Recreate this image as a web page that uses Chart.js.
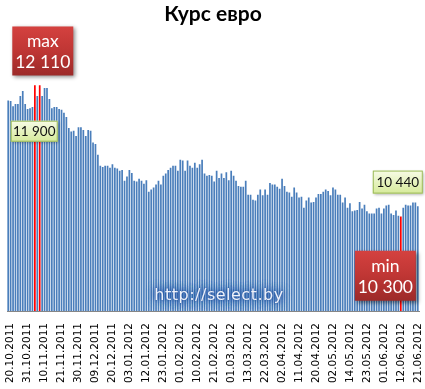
<!DOCTYPE html>
<html><head><meta charset="utf-8">
<script src="https://cdn.jsdelivr.net/npm/chart.js@4/dist/chart.umd.min.js"></script>
<style>html,body{margin:0;padding:0;background:#fff;}#wrap{width:425px;height:389px;}</style>
</head><body><div id="wrap"><canvas id="c" width="425" height="389"></canvas></div>
<script>
const title = 'Курс евро';
const tickLabels = ['20.10.2011','31.10.2011','10.11.2011','21.11.2011','30.11.2011','09.12.2011','20.12.2011',
  '03.01.2012','12.01.2012','23.01.2012','01.02.2012','10.02.2012','21.02.2012','01.03.2012','13.03.2012',
  '22.03.2012','02.04.2012','11.04.2012','20.04.2012','02.05.2012','14.05.2012','23.05.2012','01.06.2012',
  '12.06.2012','21.06.2012'];
const labelStep = 7;
const values = [
  11900,11890,11820,11850,11850,11960,12030,11850,11780,11790,
  11810,12110,11960,12110,11960,12070,12070,11920,11790,11810,
  11810,11780,11770,11730,11670,11520,11470,11480,11410,11530,
  11530,11490,11410,11490,11480,11320,11300,11150,11000,10980,
  11000,11000,10970,11020,10970,10960,10930,10940,10790,10850,
  10940,10900,10790,10780,10820,10790,10750,10800,10640,10670,
  10700,10740,10790,10740,10860,10890,10940,10970,11000,11000,
  10930,11080,11070,10930,11070,11000,10970,11040,10970,11020,
  11080,10890,10860,10870,10860,10780,10930,10830,10890,10830,
  10910,10800,10930,10860,10790,10720,10710,10710,10790,10600,
  10600,10530,10520,10600,10670,10590,10670,10600,10760,10740,
  10740,10710,10680,10820,10720,10640,10630,10570,10700,10630,
  10560,10570,10420,10520,10560,10490,10500,10560,10610,10610,
  10640,10670,10650,10590,10700,10670,10600,10600,10490,10560,
  10420,10480,10370,10380,10390,10500,10410,10460,10370,10340,
  10340,10340,10410,10420,10340,10410,10450,10460,10340,10320,
  10380,10310,10300,10420,10460,10450,10450,10490,10490,10440
];
const yMin = 9000, yMax = 12500;

const categories = values.map((v, i) => (i % labelStep === 0 && tickLabels[i / labelStep]) ? tickLabels[i / labelStep] : '');
const maxV = Math.max(...values), minV = Math.min(...values);
const barColors = values.map(v => (v === maxV || v === minV) ? '#FF0000' : '#4A7EBB');
const fmt = v => String(v).replace(/\B(?=(\d{3})+(?!\d))/g, ' ');

function redBox(ctx, x, y, w, h, l1, l2) {
  ctx.save();
  ctx.shadowColor = 'rgba(0,0,0,0.45)'; ctx.shadowBlur = 4; ctx.shadowOffsetX = 2; ctx.shadowOffsetY = 2;
  const g = ctx.createLinearGradient(0, y, 0, y + h);
  g.addColorStop(0, '#D4413F'); g.addColorStop(0.5, '#BF3634'); g.addColorStop(1, '#9C2A29');
  ctx.fillStyle = g; ctx.fillRect(x, y, w, h);
  ctx.restore();
  ctx.save();
  ctx.fillStyle = '#FFFFFF'; ctx.textAlign = 'center'; ctx.textBaseline = 'middle';
  ctx.font = '17.5px Lato, "Open Sans", sans-serif';
  ctx.fillText(l1, x + w / 2, y + h * 0.31);
  ctx.fillText(l2, x + w / 2, y + h * 0.74);
  ctx.restore();
}
function greenBox(ctx, x, y, w, h, t) {
  ctx.save();
  ctx.shadowColor = 'rgba(0,0,0,0.35)'; ctx.shadowBlur = 3; ctx.shadowOffsetX = 1.5; ctx.shadowOffsetY = 1.5;
  const g = ctx.createLinearGradient(0, y, 0, y + h);
  g.addColorStop(0, '#F7FBE6'); g.addColorStop(1, '#D6EA9A');
  ctx.fillStyle = g; ctx.fillRect(x, y, w, h);
  ctx.restore();
  ctx.save();
  ctx.strokeStyle = '#9BBB59'; ctx.lineWidth = 1;
  ctx.strokeRect(x + 0.5, y + 0.5, w - 1, h - 1);
  ctx.fillStyle = '#111'; ctx.textAlign = 'center'; ctx.textBaseline = 'middle';
  ctx.font = '13.5px Lato, "Open Sans", sans-serif';
  ctx.fillText(t, x + w / 2, y + h / 2 + 0.5);
  ctx.restore();
}

const annot = {
  id: 'annot',
  afterDatasetsDraw(chart) {
    const ctx = chart.ctx, xs = chart.scales.x, ys = chart.scales.y, ca = chart.chartArea;
    const iMax = values.indexOf(maxV), iMaxLast = values.lastIndexOf(maxV);
    const iMin = values.lastIndexOf(minV), iLast = values.length - 1;
    const xm = (xs.getPixelForValue(iMax) + xs.getPixelForValue(iMaxLast)) / 2;
    redBox(ctx, xm - 25, ys.getPixelForValue(maxV) - 59, 61, 49, 'max', fmt(maxV));
    greenBox(ctx, xs.getPixelForValue(0) + 2.5, ys.getPixelForValue(values[0]) + 20, 47, 21, fmt(values[0]));
    greenBox(ctx, xs.getPixelForValue(iLast) - 45, ys.getPixelForValue(values[iLast]) - 36, 50, 23, fmt(values[iLast]));
    redBox(ctx, xs.getPixelForValue(iMin) - 46, ys.getPixelForValue(minV) + 34, 61, 50, 'min', fmt(minV));
    ctx.save();
    const cx = (ca.left + ca.right) / 2 + 6, cy = ca.bottom - 15;
    ctx.font = '16px "DejaVu Sans", Verdana, sans-serif';
    try { ctx.letterSpacing = '0.5px'; } catch (e) {}
    ctx.textAlign = 'center'; ctx.textBaseline = 'middle';
    ctx.shadowColor = 'rgba(45,95,175,1)'; ctx.shadowBlur = 9;
    ctx.fillStyle = 'rgba(80,125,195,0.9)';
    for (let k = 0; k < 4; k++) ctx.fillText('http://select.by', cx, cy);
    ctx.shadowBlur = 2; ctx.shadowColor = 'rgba(40,80,150,0.9)';
    ctx.fillStyle = '#EEF2FA';
    ctx.fillText('http://select.by', cx, cy);
    ctx.restore();
  }
};

new Chart(document.getElementById('c').getContext('2d'), {
  type: 'bar',
  data: { labels: categories, datasets: [{ data: values, backgroundColor: barColors, borderWidth: 0, barThickness: 1.05, categoryPercentage: 1 }] },
  options: {
    responsive: false, animation: false, devicePixelRatio: 1,
    layout: { padding: { left: 7, right: 6, top: 0, bottom: 6 } },
    plugins: {
      legend: { display: false }, tooltip: { enabled: false },
      title: { display: true, text: title, color: '#000', font: { family: 'Lato, "Open Sans", sans-serif', size: 21, weight: 'bold', lineHeight: 1.2 }, padding: { top: 2, bottom: 30 } }
    },
    scales: {
      x: {
        grid: { display: false, drawTicks: false },
        border: { display: true, color: '#868686', width: 1 },
        ticks: { autoSkip: false, minRotation: 90, maxRotation: 90, padding: 12, labelOffset: 2.5, color: '#000', font: { family: '"DejaVu Sans", sans-serif', size: 10.5 } },
        afterFit(scale) { scale.height = 72; scale.paddingLeft = 0; scale.paddingRight = 0; }
      },
      y: { display: false, min: yMin, max: yMax }
    }
  },
  plugins: [annot]
});
</script>
</body></html>
